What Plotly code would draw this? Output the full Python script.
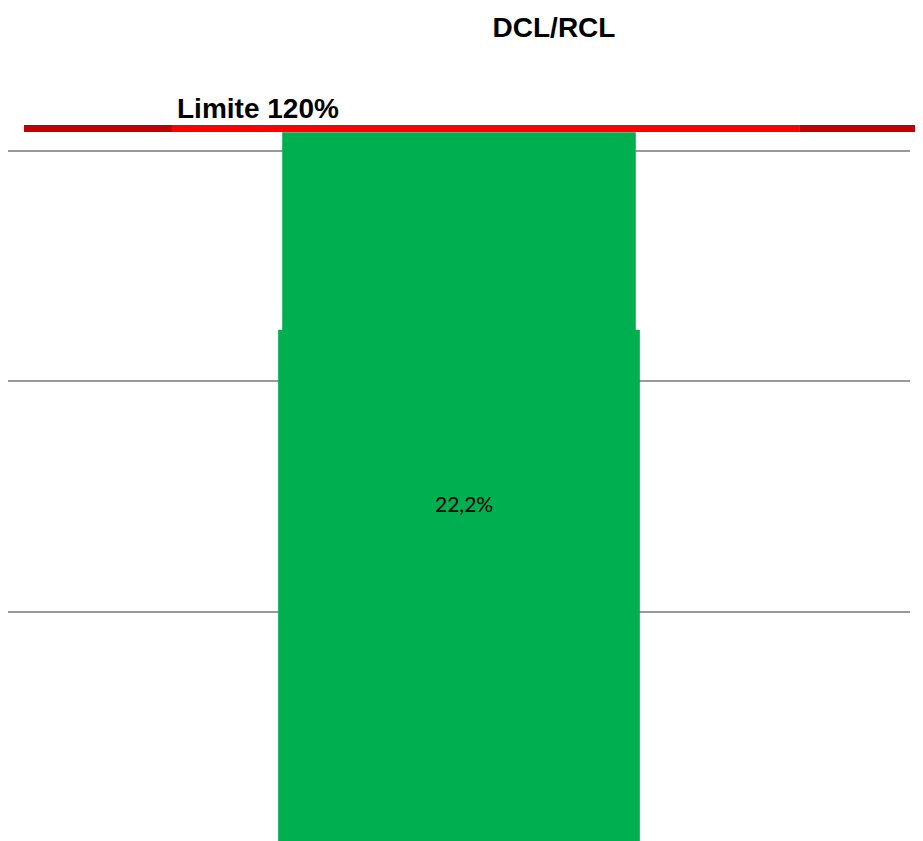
import plotly.graph_objects as go

# Data
categories = ["DCL/RCL"]
lower_bar = [55.6]      # wider bar segment
upper_bar = [77.0]      # narrower bar segment
bar_label = ["22,2%"]
limit_value = 77.4      # "Limite 120%" reference line
grid_values = [25, 50, 75]

GREEN = "#00B050"

fig = go.Figure()
fig.add_trace(go.Bar(x=[0], y=upper_bar, width=0.392, marker=dict(color=GREEN, line=dict(width=0)),
                     hoverinfo="skip", showlegend=False))
fig.add_trace(go.Bar(x=[0], y=lower_bar, width=0.401, marker=dict(color=GREEN, line=dict(width=0)),
                     hoverinfo="skip", showlegend=False))

# limit line segments (dark ends, bright middle)
segs = [(0.0177, 0.1818, "#C00000"), (0.1818, 0.878, "#FF0000"), (0.878, 1.03, "#C00000")]
for x0, x1, c in segs:
    fig.add_shape(type="line", xref="paper", yref="y", x0=x0, x1=x1, y0=limit_value, y1=limit_value,
                  line=dict(color=c, width=7), layer="above")

fig.add_annotation(x=0.1855, xref="paper", xanchor="left", y=limit_value + 2.2, yref="y", yanchor="middle",
                   text="<b>Limite 120%</b>", showarrow=False,
                   font=dict(family="Liberation Sans, Arial", size=28, color="black"))

fig.add_annotation(x=0.006, xref="x", y=36.8, yref="y", text=bar_label[0], showarrow=False,
                   font=dict(family="Lato, Open Sans", size=21, color="black"))

fig.update_layout(
    barmode="overlay",
    width=915, height=833,
    margin=dict(l=0, r=13, t=0, b=0),
    paper_bgcolor="white", plot_bgcolor="white",
    title=dict(text="<b>DCL/RCL</b>", x=546 / 915, xref="container", xanchor="center",
               y=1 - 19 / 833, yref="container", yanchor="middle",
               font=dict(family="Liberation Sans, Arial", size=28, color="black")),
    xaxis=dict(range=[-0.5, 0.5], showticklabels=False, showgrid=False, zeroline=False, ticks=""),
    yaxis=dict(range=[0.22, 90.45], tickvals=grid_values, showticklabels=False, showgrid=True,
               gridcolor="#999999", gridwidth=1.5, zeroline=False, ticks=""),
)

fig.write_html("out.html")
